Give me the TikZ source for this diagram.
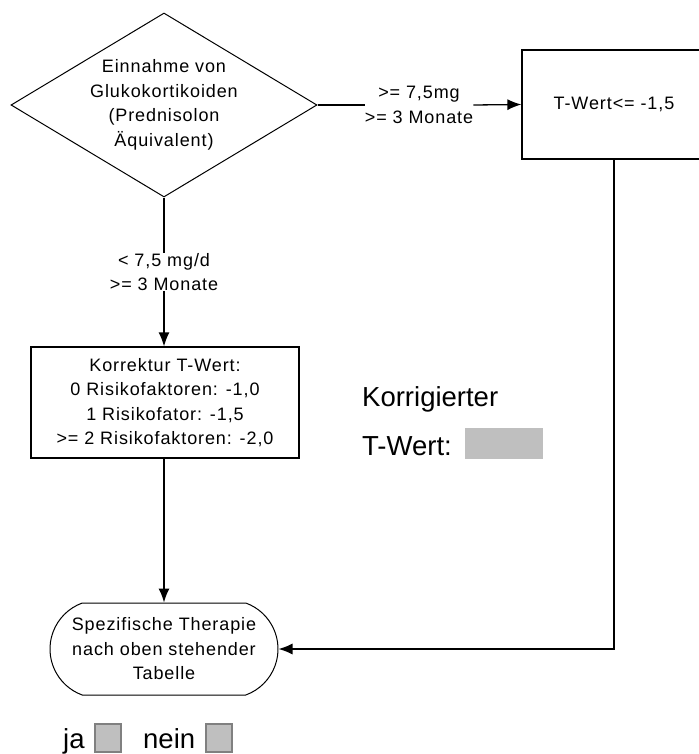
\documentclass[tikz,border=0pt]{standalone}
\usepackage{fontspec}
\setmainfont{Liberation Sans}
\usetikzlibrary{arrows.meta,shapes.geometric,shapes.misc}

\begin{document}
\begin{tikzpicture}[x=1pt,y=-1pt,
  flowtext/.style={font=\fontsize{18}{24.5}\selectfont\addfontfeatures{LetterSpace=5}, align=center},
  bigtext/.style={font=\fontsize{27.5}{33}\selectfont, inner sep=0pt},
  decision/.style={flowtext, draw, line width=1pt, diamond, inner sep=0pt, aspect=1.66,
    minimum width=306pt, minimum height=184pt},
  process/.style={flowtext, draw, line width=1.2pt, rectangle, inner sep=0pt},
  terminal/.style={flowtext, draw, line width=1pt, rounded rectangle,
    rounded rectangle arc length=140, inner sep=0pt, minimum width=228pt, minimum height=92pt},
  edgelabel/.style={flowtext, inner sep=0pt},
  conn/.style={line width=1.3pt},
  arr/.style={conn, -{Latex[length=14pt,width=11pt]}},
  field/.style={draw=none, fill=black!25, inner sep=0pt, minimum width=78pt, minimum height=31pt},
  checkbox/.style={draw=black!50, line width=2pt, fill=black!25, inner sep=0pt,
    minimum width=26pt, minimum height=28pt}
]
\useasboundingbox (0,0) rectangle (698,754);

% decision
\node[decision] (dia) at (164,105)
  {Einnahme von\\Glukokortikoiden\\(Prednisolon\\Äquivalent)};

% right branch
\node[edgelabel] (labR) at (419,105) {>= 7,5mg\\>= 3 Monate};
\node[process, minimum width=184pt, minimum height=109pt] (tw) at (614,104.5)
  {T-Wert<= -1,5};

% down branch
\node[edgelabel] (labD) at (164,272) {< 7,5 mg/d\\>= 3 Monate};
\node[process, minimum width=268pt, minimum height=111pt] (korr) at (165,402.5)
  {Korrektur T-Wert:\\0 Risikofaktoren: -1,0\\1 Risikofator: -1,5\\>= 2 Risikofaktoren: -2,0};

% terminal
\node[terminal] (ther) at (164,649)
  {Spezifische Therapie\\nach oben stehender\\Tabelle};

% connectors
\draw[conn] (dia.east) -- (labR.west);
\draw[arr] (labR.east) -- (tw.west);
\draw[conn] (dia.south) -- (labD.north);
\draw[arr] (labD.south) -- (korr.north -| labD.south);
\draw[arr] (korr.south -| ther.north) -- (ther.north);
\draw[arr] (tw.south) |- (ther.east);

% corrected value field
\node[bigtext, anchor=base west] (korrlab) at (362,406) {Korrigierter};
\node[bigtext, anchor=base west] (twlab) at (362,455) {T-Wert:};
\node[field] (twfield) at (504,443.5) {};

% yes / no boxes
\node[bigtext, anchor=base west] (ja) at (63,748) {ja};
\node[checkbox] (jabox) at (108,738) {};
\node[bigtext, anchor=base west] (nein) at (143,748) {nein};
\node[checkbox] (neinbox) at (219,738) {};
\end{tikzpicture}
\end{document}
